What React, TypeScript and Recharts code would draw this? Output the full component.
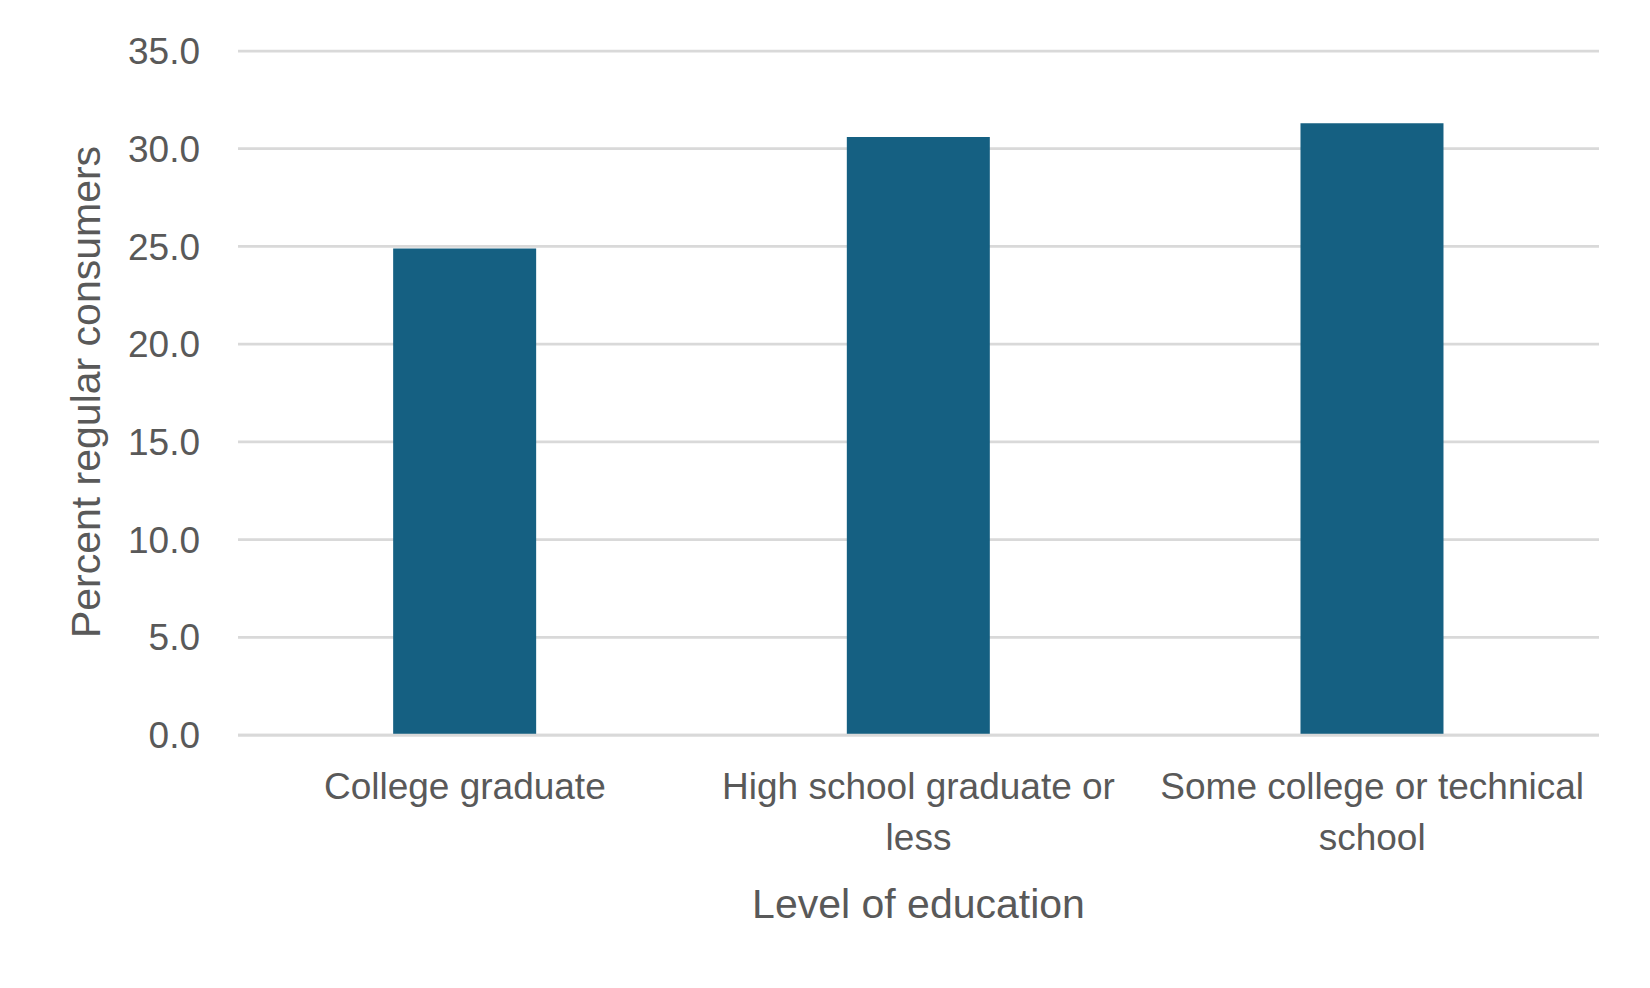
import React from 'react';
import { BarChart, Bar, XAxis, YAxis, CartesianGrid, Label } from 'recharts';

const categories = ['College graduate', 'High school graduate or less', 'Some college or technical school'];
const percentRegular = [24.9, 30.6, 31.3];
const yTicks = [0, 5, 10, 15, 20, 25, 30, 35];
const xTitle = 'Level of education';
const yTitle = 'Percent regular consumers';

const data = categories.map((c, i) => ({ category: c, value: percentRegular[i] }));

const FONT = "'Liberation Sans', Arial, sans-serif";
const TEXT = '#595959';
const GRID = '#D9D9D9';
const BAR = '#156082';
const TICK_SIZE = 37;
const TITLE_SIZE = 41;

let measureCtx: CanvasRenderingContext2D | null = null;
function wrapWords(text: string, maxWidth: number): string[] {
  if (typeof document === 'undefined') return [text];
  if (!measureCtx) measureCtx = document.createElement('canvas').getContext('2d');
  if (!measureCtx) return [text];
  measureCtx.font = `${TICK_SIZE}px 'Liberation Sans', Arial, sans-serif`;
  const words = text.split(' ');
  const lines: string[] = [];
  let cur = '';
  for (const w of words) {
    const t = cur ? cur + ' ' + w : w;
    if (cur && measureCtx.measureText(t).width > maxWidth) {
      lines.push(cur);
      cur = w;
    } else {
      cur = t;
    }
  }
  if (cur) lines.push(cur);
  return lines;
}

const XTick = (props: any) => {
  const { x, y, payload } = props;
  const lines = wrapWords(String(payload.value), 440);
  return (
    <text x={x} y={y} textAnchor="middle" fontFamily={FONT} fontSize={TICK_SIZE} fill={TEXT}>
      {lines.map((ln, i) => (
        <tspan key={i} x={x} dy={i === 0 ? '0.71em' : 51}>
          {ln}
        </tspan>
      ))}
    </text>
  );
};

const renderYTitle = (p: any) => {
  const vb = p.viewBox || {};
  const cx = (vb.x || 0) + 100;
  const cy = (vb.y || 0) + (vb.height || 0) / 2 - 1;
  return (
    <text
      x={cx}
      y={cy}
      transform={`rotate(-90 ${cx} ${cy})`}
      textAnchor="middle"
      fontFamily={FONT}
      fontSize={TITLE_SIZE}
      fill={TEXT}
    >
      {yTitle}
    </text>
  );
};

const renderXTitle = (p: any) => {
  const vb = p.viewBox || {};
  const cx = (vb.x || 0) + (vb.width || 0) / 2;
  const cy = (vb.y || 0) + 183;
  return (
    <text x={cx} y={cy} textAnchor="middle" fontFamily={FONT} fontSize={TITLE_SIZE} fill={TEXT}>
      {xTitle}
    </text>
  );
};

export default function App() {
  return (
    <div style={{ position: 'absolute', left: 0, top: 0, width: 1650, height: 988, background: '#fff' }}>
      <BarChart
        width={1650}
        height={988}
        data={data}
        margin={{ top: 51, right: 51, left: 0, bottom: 0 }}
        barCategoryGap="34.2%"
      >
        <CartesianGrid vertical={false} stroke={GRID} strokeWidth={2.75} />
        <XAxis
          dataKey="category"
          height={253}
          axisLine={{ stroke: GRID, strokeWidth: 2.75 }}
          tickLine={false}
          tickSize={0}
          tickMargin={38}
          interval={0}
          tick={<XTick />}
        >
          <Label content={renderXTitle} />
        </XAxis>
        <YAxis
          width={238}
          domain={[0, 35]}
          ticks={yTicks}
          interval={0}
          axisLine={false}
          tickLine={false}
          tickSize={0}
          tickMargin={38}
          tickFormatter={(v: number) => v.toFixed(1)}
          tick={{ fill: TEXT, fontSize: TICK_SIZE, fontFamily: FONT }}
        >
          <Label content={renderYTitle} />
        </YAxis>
        <Bar dataKey="value" fill={BAR} isAnimationActive={false} />
      </BarChart>
    </div>
  );
}
